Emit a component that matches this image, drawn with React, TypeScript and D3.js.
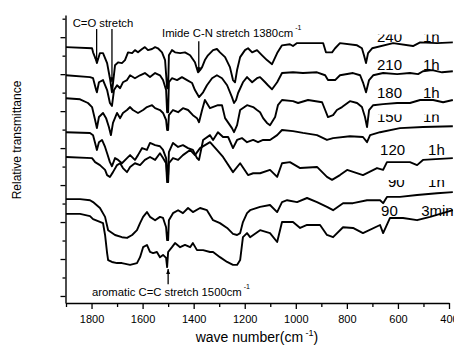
import { useRef, useEffect } from "react";
import * as d3 from "d3";

type Pt = [number, number];

// [wavenumber cm-1, relative transmittance (stacked, a.u.)]
const s240: Pt[] = [[1900,67.3],[1798,67.0],[1794,65.9],[1782,63.8],[1779,63.0],[1767,65.7],[1755,65.7],[1739,63.0],[1728,58.9],[1720,55.1],[1708,62.4],[1696,63.2],[1681,63.0],[1669,63.8],[1657,65.9],[1641,65.7],[1630,66.5],[1618,65.9],[1602,66.8],[1591,67.3],[1579,66.5],[1563,66.8],[1551,67.3],[1540,67.0],[1524,65.9],[1512,63.8],[1504,56.2],[1500,56.2],[1497,65.1],[1485,66.5],[1473,65.9],[1453,65.7],[1434,65.9],[1414,65.1],[1395,63.2],[1383,60.5],[1375,61.1],[1367,61.9],[1356,63.8],[1344,65.1],[1324,66.5],[1309,66.8],[1297,65.9],[1277,64.6],[1258,61.9],[1246,58.4],[1238,57.8],[1230,61.1],[1218,64.6],[1199,66.5],[1187,67.0],[1171,65.9],[1152,66.5],[1132,65.1],[1113,63.8],[1093,62.7],[1073,65.7],[1054,67.8],[1023,68.1],[1011,67.6],[995,68.4],[944,68.4],[893,68.4],[882,65.9],[858,65.9],[846,67.0],[827,68.4],[760,67.8],[741,67.0],[733,65.1],[725,63.0],[717,65.7],[701,67.0],[619,68.4],[541,67.6],[513,68.6],[447,68.4],[385,68.6]];

const s210: Pt[] = [[1900,59.7],[1806,59.2],[1794,58.9],[1782,55.7],[1779,55.1],[1771,57.8],[1755,58.4],[1739,55.7],[1728,52.2],[1720,51.4],[1712,55.7],[1700,57.0],[1688,56.2],[1677,57.8],[1661,58.4],[1649,59.7],[1630,58.9],[1610,59.7],[1591,60.3],[1571,59.2],[1551,60.3],[1532,59.7],[1520,58.4],[1508,55.7],[1504,49.7],[1500,49.7],[1497,57.8],[1485,58.9],[1465,58.4],[1446,59.2],[1426,58.4],[1406,57.6],[1395,55.7],[1379,53.8],[1363,55.1],[1348,57.0],[1328,58.9],[1309,59.7],[1289,58.9],[1269,57.0],[1250,53.8],[1242,52.2],[1234,53.0],[1226,54.9],[1207,57.8],[1191,59.2],[1171,57.8],[1152,58.9],[1140,59.2],[1120,57.8],[1109,57.0],[1093,55.9],[1073,57.8],[1054,60.3],[1011,60.5],[972,60.3],[917,60.5],[885,59.7],[874,58.4],[846,58.4],[827,59.7],[776,60.3],[748,59.7],[737,57.8],[725,55.1],[713,58.4],[697,59.7],[658,60.3],[603,60.0],[553,60.3],[521,60.0],[502,60.8],[466,61.1],[427,60.5],[385,60.8]];

const s180: Pt[] = [[1900,53.5],[1845,53.2],[1814,52.2],[1798,51.1],[1786,47.6],[1779,45.4],[1771,48.4],[1755,49.5],[1743,48.1],[1732,45.7],[1724,43.5],[1716,46.8],[1700,49.5],[1688,48.1],[1677,49.5],[1661,50.3],[1649,51.1],[1638,50.3],[1618,49.5],[1598,50.3],[1583,51.1],[1563,51.6],[1551,50.8],[1532,50.3],[1520,49.5],[1508,47.6],[1504,44.9],[1500,44.9],[1497,48.9],[1481,50.3],[1461,49.7],[1442,50.8],[1422,50.3],[1403,48.9],[1387,48.1],[1379,47.0],[1367,50.3],[1356,53.0],[1336,50.8],[1305,51.6],[1289,51.6],[1277,48.1],[1250,45.4],[1242,44.3],[1230,46.2],[1218,50.3],[1191,51.6],[1167,51.1],[1152,50.3],[1140,49.7],[1128,48.1],[1113,46.8],[1101,46.2],[1081,48.4],[1070,51.6],[1054,53.0],[1011,52.7],[991,52.2],[952,53.0],[897,52.4],[885,50.3],[874,48.4],[854,48.9],[839,50.3],[819,51.1],[788,52.7],[760,52.2],[741,51.1],[729,48.4],[721,45.7],[713,50.3],[697,51.6],[658,51.9],[603,52.2],[553,52.2],[513,53.0],[462,53.0],[423,52.4],[385,53.0]];

const s150: Pt[] = [[1900,44.3],[1806,44.1],[1794,43.5],[1786,41.4],[1779,39.5],[1771,41.6],[1759,42.2],[1747,40.3],[1739,38.6],[1728,36.2],[1720,35.1],[1708,37.3],[1696,36.8],[1681,35.9],[1661,37.3],[1649,38.1],[1630,36.8],[1618,38.1],[1602,40.0],[1583,39.5],[1571,41.4],[1551,40.8],[1532,40.5],[1520,39.5],[1508,37.3],[1504,32.7],[1500,32.7],[1497,38.9],[1481,41.4],[1461,40.3],[1442,40.8],[1422,40.0],[1403,39.5],[1387,37.3],[1379,36.8],[1363,42.2],[1336,43.5],[1324,42.2],[1305,44.3],[1285,43.0],[1265,43.0],[1246,40.0],[1230,42.2],[1211,42.7],[1191,41.6],[1167,42.2],[1148,41.6],[1128,42.2],[1101,42.2],[1073,43.5],[1054,44.9],[1011,44.6],[972,44.1],[917,43.5],[878,42.2],[854,42.7],[788,43.2],[737,43.0],[721,41.6],[709,43.5],[670,44.3],[592,45.4],[502,45.7],[385,45.9]];

const s120: Pt[] = [[1900,37.6],[1798,37.3],[1786,36.2],[1767,35.4],[1747,34.1],[1739,32.7],[1728,32.2],[1716,33.5],[1700,35.4],[1688,35.9],[1677,34.6],[1661,33.5],[1649,34.9],[1630,35.9],[1610,35.4],[1591,36.8],[1571,37.6],[1551,36.8],[1532,38.6],[1520,37.3],[1508,35.9],[1504,30.8],[1500,30.8],[1497,35.9],[1481,37.3],[1461,36.8],[1442,38.1],[1414,39.5],[1395,38.1],[1375,40.0],[1336,41.6],[1309,39.5],[1285,37.6],[1246,33.5],[1218,35.9],[1187,32.7],[1167,33.2],[1140,33.2],[1101,34.1],[1073,32.2],[1054,35.9],[1023,36.2],[983,34.6],[917,34.9],[878,32.2],[858,31.4],[827,32.7],[799,34.1],[737,32.7],[682,34.6],[658,34.1],[643,36.2],[553,36.2],[525,35.4],[502,36.8],[385,37.3]];

const s90h: Pt[] = [[1900,26.2],[1845,26.2],[1806,25.9],[1794,25.4],[1767,23.8],[1747,21.4],[1735,17.8],[1708,16.5],[1681,15.9],[1661,15.7],[1641,16.5],[1622,17.8],[1610,19.7],[1598,21.4],[1583,22.7],[1571,21.4],[1551,20.5],[1532,21.4],[1520,21.1],[1508,18.6],[1504,15.1],[1500,15.1],[1497,20.5],[1481,22.4],[1461,23.2],[1442,22.4],[1422,23.8],[1403,22.7],[1375,23.8],[1348,23.2],[1324,20.5],[1297,19.7],[1269,18.4],[1246,16.8],[1230,16.5],[1218,17.0],[1207,20.0],[1191,22.4],[1179,23.2],[1140,24.1],[1101,24.6],[1073,22.7],[1054,25.4],[1034,25.9],[995,25.4],[956,26.5],[917,25.4],[878,24.1],[854,23.2],[815,25.1],[776,25.1],[721,25.9],[670,25.9],[658,25.1],[643,26.8],[592,26.8],[525,27.3],[447,27.8],[385,28.1]];

const s90m: Pt[] = [[1900,22.2],[1845,22.2],[1806,21.6],[1794,20.8],[1755,19.7],[1747,16.5],[1739,11.6],[1735,9.7],[1720,9.2],[1700,8.9],[1681,8.9],[1649,8.4],[1622,8.9],[1610,10.5],[1598,13.2],[1583,13.8],[1571,11.9],[1559,11.6],[1544,11.9],[1532,10.5],[1520,11.1],[1508,10.3],[1504,7.8],[1500,11.9],[1485,13.2],[1473,14.3],[1453,13.2],[1434,13.8],[1414,13.2],[1403,14.3],[1387,12.4],[1363,12.4],[1336,11.9],[1324,11.9],[1297,10.5],[1269,9.2],[1246,8.4],[1230,8.4],[1218,9.7],[1207,15.9],[1191,17.0],[1179,15.9],[1140,17.8],[1101,17.0],[1073,14.6],[1054,20.0],[1011,20.0],[983,18.4],[956,19.2],[905,19.2],[878,16.5],[854,15.9],[815,18.6],[776,18.4],[737,17.0],[670,19.2],[658,17.0],[631,21.1],[580,21.1],[525,20.5],[474,21.4],[385,23.2]];

const spectra = [s240, s210, s180, s150, s120, s90h, s90m];
const tempLabels = ["240", "210", "180", "150", "120", "90", "90"];
const timeLabels = ["1h", "1h", "1h", "1h", "1h", "1h", "3min"];

const xMajor = [1800, 1600, 1400, 1200, 1000, 800, 600, 400];
const xMinor = [1900, 1700, 1500, 1300, 1100, 900, 700, 500];
const yMajor = [0, 10, 20, 30, 40, 50, 60, 70];
const yMinor = [5, 15, 25, 35, 45, 55, 65, 75];

export default function App() {
  const svgRef = useRef<SVGSVGElement>(null);
  const width = 454;
  const height = 347;

  useEffect(() => {
    const svg = d3.select(svgRef.current);
    svg.selectAll("*").remove();
    const font = "'Liberation Sans', Arial, sans-serif";

    const x = d3.scaleLinear().domain([1900, 400]).range([66, 449]);
    const y = d3.scaleLinear().domain([-1.9, 76]).range([303, 15]);

    // sample labels at the right end, placed like the Origin text boxes
    const labelPos = [
      { xa: 682, xb: 502, v: 68.6, clip: 3 },
      { xa: 682, xb: 502, v: 61.1, clip: 0 },
      { xa: 682, xb: 502, v: 53.5, clip: 0 },
      { xa: 682, xb: 502, v: 47.0, clip: 3 },
      { xa: 670, xb: 482, v: 38.1, clip: 0 },
      { xa: 639, xb: 482, v: 29.5, clip: 4 },
      { xa: 666, xb: 509, v: 21.6, clip: 0 },
    ];
    const defs = svg.append("defs");
    const lab = svg.append("g").attr("font-family", font).attr("font-size", 15).attr("fill", "#000");
    labelPos.forEach((p, i) => {
      const by = y(p.v);
      const g = lab.append("g");
      if (p.clip > 0) {
        defs.append("clipPath").attr("id", `lc${i}`)
          .append("rect").attr("x", 0).attr("width", width)
          .attr("y", by - 10.8 + p.clip).attr("height", 20);
        g.attr("clip-path", `url(#lc${i})`);
      }
      g.append("text").attr("x", x(p.xa)).attr("y", by).text(tempLabels[i]);
      g.append("text").attr("x", x(p.xb)).attr("y", by).text(timeLabels[i]);
    });

    // spectra
    const line = d3.line<Pt>().x((d) => x(d[0])).y((d) => y(d[1]));
    svg.append("g").selectAll("path").data(spectra).enter().append("path")
      .attr("d", (d) => line(d))
      .attr("fill", "none")
      .attr("stroke", "#000")
      .attr("stroke-width", 1.9)
      .attr("stroke-linejoin", "round");

    // axes
    const ax = svg.append("g").attr("font-family", font);
    const xg = ax.append("g").attr("transform", `translate(0,${y(-1.9)})`)
      .call(d3.axisBottom(x).tickValues(xMajor).tickSize(6).tickSizeOuter(0).tickPadding(6).tickFormat(d3.format("d")));
    xg.append("g").call(d3.axisBottom(x).tickValues(xMinor).tickSize(4).tickFormat(() => ""))
      .select(".domain").remove();
    const yg = ax.append("g").attr("transform", `translate(${x(1900) - 0.5},0)`)
      .call(d3.axisLeft(y).tickValues(yMajor).tickSize(5).tickSizeOuter(0).tickFormat(() => ""));
    yg.append("g").call(d3.axisLeft(y).tickValues(yMinor).tickSize(3).tickFormat(() => ""))
      .select(".domain").remove();
    ax.selectAll(".domain").attr("stroke", "#000").attr("stroke-width", 1.4);
    ax.selectAll(".tick line").attr("stroke", "#000").attr("stroke-width", 1.3);
    ax.selectAll(".tick text").attr("font-size", 11).attr("font-family", font).attr("fill", "#000");

    // axis titles
    const xt = svg.append("text").attr("x", 257).attr("y", 342).attr("text-anchor", "middle")
      .attr("font-family", font).attr("font-size", 14).attr("fill", "#000");
    xt.append("tspan").text("wave number(cm");
    xt.append("tspan").attr("dy", -6).attr("font-size", 9).text(" -1");
    xt.append("tspan").attr("dy", 6).text(")");
    svg.append("text").attr("transform", `translate(21,140) rotate(-90)`).attr("text-anchor", "middle")
      .attr("font-family", font).attr("font-size", 12).attr("fill", "#000").text("Relative transmittance");

    // band annotations
    const ann = svg.append("g").attr("font-family", font).attr("font-size", 11.3).attr("fill", "#000");
    const arrow = (wn: number, v0: number, v1: number) => {
      const xa = x(wn), ya = y(v0), yb = y(v1);
      const dir = yb > ya ? 1 : -1;
      ann.append("line").attr("x1", xa).attr("x2", xa).attr("y1", ya).attr("y2", yb)
        .attr("stroke", "#000").attr("stroke-width", 1.3);
      ann.append("path")
        .attr("d", `M${xa - 2},${yb - dir * 5}L${xa + 2},${yb - dir * 5}L${xa},${yb}Z`)
        .attr("fill", "#000");
    };
    arrow(1780, 72.2, 63.0);
    arrow(1720, 72.2, 57.8);
    arrow(1380, 68.9, 60.5);
    arrow(1500, 3.2, 7.3);

    ann.append("text").attr("x", x(1874)).attr("y", y(72.8)).text("C=O stretch");
    const t1 = ann.append("text").attr("x", x(1524)).attr("y", y(70));
    t1.append("tspan").text("Imide C-N stretch 1380cm");
    t1.append("tspan").attr("dy", -7).attr("font-size", 7).text(" -1");
    const t2 = ann.append("text").attr("x", x(1798)).attr("y", y(0));
    t2.append("tspan").text("aromatic C=C stretch 1500cm");
    t2.append("tspan").attr("dy", -7).attr("font-size", 7).text(" -1");
  }, []);

  return (
    <svg
      ref={svgRef}
      width={width}
      height={height}
      style={{ position: "absolute", left: 0, top: 0, background: "#fff" }}
    ></svg>
  );
}
